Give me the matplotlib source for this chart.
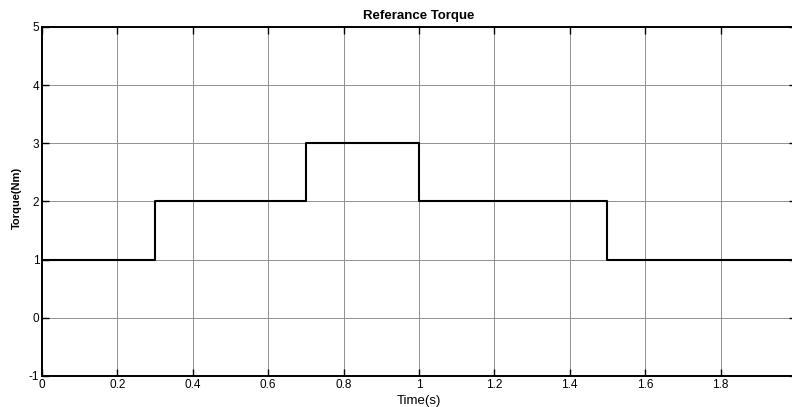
import numpy as np
import matplotlib
matplotlib.use("Agg")
import matplotlib.pyplot as plt

plt.rcParams['font.family'] = ['Liberation Sans', 'DejaVu Sans']
plt.rcParams['axes.unicode_minus'] = False

# Step reference torque: breakpoints and levels
t_steps = [0.0, 0.3, 0.7, 1.0, 1.5, 2.0]
torque_levels = [1, 2, 3, 2, 1, 1]

fig = plt.figure(figsize=(7.92, 4.07), dpi=100)
ax = fig.add_axes([0.053, 0.0762, 0.952, 0.8575])

ax.step(t_steps, torque_levels, where="post", color="black", linewidth=1.5)

ax.set_xlim(0, 2)
ax.set_ylim(-1, 5)
ax.set_xticks(np.arange(0, 1.81, 0.2))
ax.set_xticklabels(["0", "0.2", "0.4", "0.6", "0.8", "1", "1.2", "1.4", "1.6", "1.8"])
ax.set_yticks(range(-1, 6))
ax.tick_params(direction="in", length=5, width=1, labelsize=8.5, top=True, right=True, pad=2)
ax.grid(True, color="#909090", linewidth=0.7)
for s in ax.spines.values():
    s.set_linewidth(1.4)

ax.set_title("Referance Torque", fontsize=9.5, fontweight="bold", pad=6)
ax.set_xlabel("Time(s)", fontsize=9.5)
ax.xaxis.set_label_coords(0.5, -0.055)
ax.set_ylabel("Torque(Nm)", fontsize=8, fontweight="bold")
ax.yaxis.set_label_coords(-0.027, 0.51)

fig.savefig("out.png", dpi=100)
